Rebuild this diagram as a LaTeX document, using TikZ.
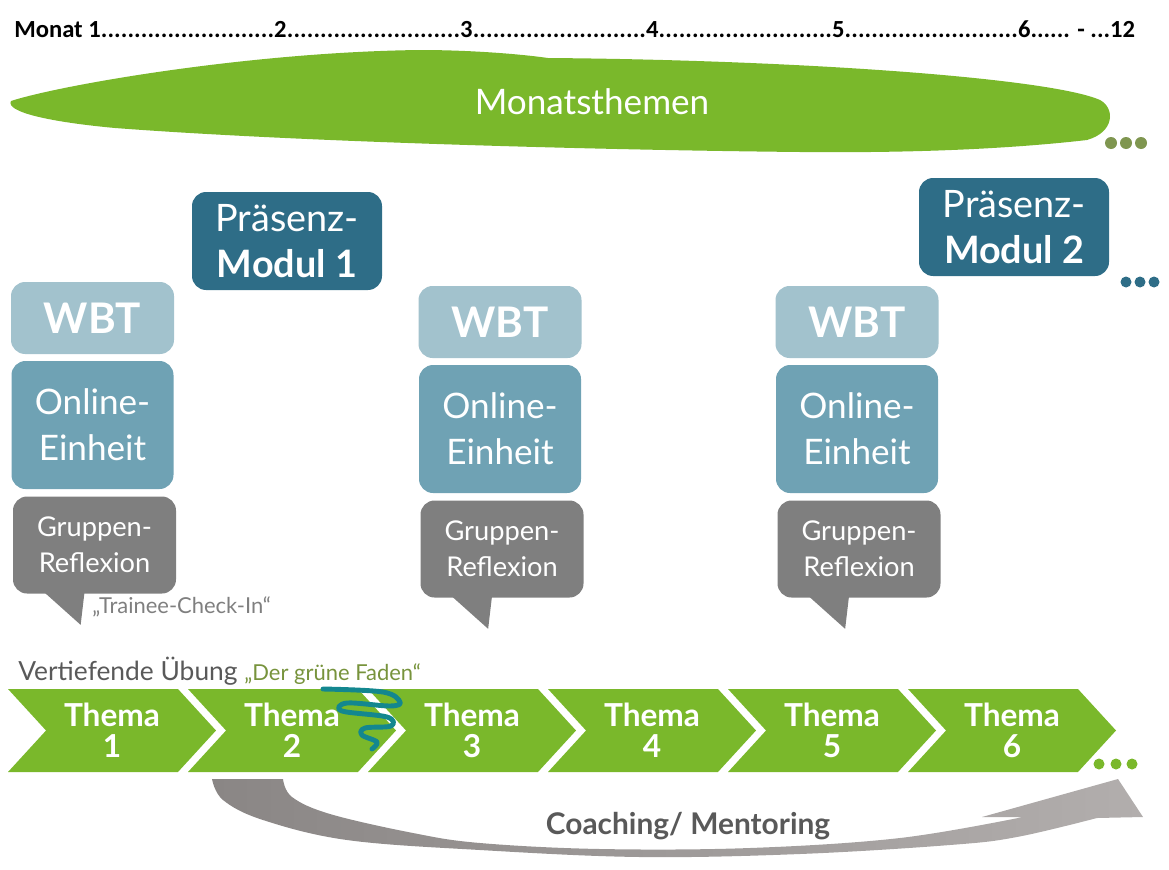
\documentclass[tikz,border=0pt]{standalone}
\usepackage{fontspec}
\setmainfont{Lato}
\newfontfamily\monatfont{Carlito}
\usepackage{xcolor}
\usepackage{tikz}
\usetikzlibrary{shapes.symbols}
\definecolor{themagruen}{HTML}{7AB82B}
\definecolor{punktoliv}{HTML}{7F9650}
\definecolor{praesenzblau}{HTML}{2E6D87}
\definecolor{wbtblau}{HTML}{A2C2CD}
\definecolor{onlineblau}{HTML}{6FA2B4}
\definecolor{gruppengrau}{HTML}{7F7F7F}
\definecolor{textgrau}{HTML}{595959}
\definecolor{fadenoliv}{HTML}{77933C}
\definecolor{fadenteal}{HTML}{13878F}
\definecolor{pfeildunkel}{HTML}{8A8685}
\definecolor{pfeilhell}{HTML}{B2AEAD}
\newlength\pxu
\setlength\pxu{0.02cm}
\newcommand\punktfill{\xleaders\hbox{.}\hfill}

\begin{document}
\begin{tikzpicture}[
  x=0.02cm, y=-0.02cm,
  kachel/.style={text=white,rounded corners=8pt,align=center,inner sep=0pt},
  praesenz/.style={kachel,fill=praesenzblau,minimum width=190\pxu,minimum height=98\pxu,font=\fontsize{21.5}{26.5}\selectfont},
  wbt/.style={kachel,fill=wbtblau,minimum width=163\pxu,minimum height=72\pxu,font=\bfseries\fontsize{24}{26}\selectfont},
  online/.style={kachel,fill=onlineblau,minimum width=162\pxu,minimum height=128\pxu,font=\fontsize{20}{26}\selectfont},
  gruppe/.style={kachel,fill=gruppengrau,minimum width=163\pxu,minimum height=97\pxu,font=\fontsize{15.5}{20.4}\selectfont},
  thema/.style={signal,signal to=east,signal from=west,signal pointer angle=95,fill=themagruen,text=white,
    minimum width=208\pxu,minimum height=83\pxu,inner sep=0pt,align=center,font=\bfseries\fontsize{18}{17.6}\selectfont},
  faden/.style={draw=fadenteal,line width=2.8pt,line cap=round,line join=round},
]
\useasboundingbox (0,0) rectangle (1169,869);

\node[anchor=base west,inner sep=0pt,font=\monatfont\bfseries\fontsize{14}{16}\selectfont] (monate) at (14,37)
  {\hbox to 1121\pxu{Monat 1\punktfill 2\punktfill 3\punktfill 4\punktfill 5\punktfill 6...... - ...12}};

\fill[themagruen] (11,101) .. controls (60,85) and (250,52) .. (420,50)
  .. controls (470,50) and (520,54) .. (548,58)
  .. controls (800,60) and (1050,78) .. (1100,100)
  .. controls (1115,108) and (1115,132) .. (1087,140)
  .. controls (1000,150) and (900,153) .. (800,152)
  .. controls (600,150) and (300,142) .. (115,128)
  .. controls (50,122) and (5,112) .. (11,101) -- cycle;
\node[text=white,font=\fontsize{20}{22}\selectfont] (themen) at (592,102) {Monatsthemen};
\foreach \x in {1111,1126,1141} \fill[punktoliv] (\x,143) circle (6\pxu);

\node[praesenz] (praesenzA) at (287,241) {Präsenz-\\\textbf{Modul 1}};
\node[praesenz] (praesenzB) at (1014,227) {Präsenz-\\\textbf{Modul 2}};
\foreach \x in {1126,1140,1154} \fill[praesenzblau] (\x,282) circle (5.5\pxu);

\foreach \name/\x/\dy in {A/92.5/0,B/500/4,C/857/4}{
  \node[wbt] (wbt\name) at (\x,318+\dy) {WBT};
  \node[online] (online\name) at (\x,425+\dy) {Online-\\Einheit};
  \node[gruppe] (gruppe\name) at (\x+2,545+\dy) {Gruppen-\\Reflexion};
  \fill[gruppengrau] ([xshift=30\pxu,yshift=3\pxu]gruppe\name.south west)
    -- ([xshift=68\pxu,yshift=-31\pxu]gruppe\name.south west)
    -- ([xshift=72\pxu,yshift=3\pxu]gruppe\name.south west) -- cycle;
}
\node[anchor=base west,inner sep=0pt,text=gruppengrau,font=\fontsize{12.5}{14}\selectfont] (checkin) at (92,613) {„Trainee-Check-In“};

\node[anchor=base west,inner sep=0pt,text=textgrau,font=\fontsize{15}{16}\selectfont] (uebung) at (18,680)
  {Vertiefende Übung {\color{fadenoliv}\fontsize{12.5}{13}\selectfont„Der grüne Faden“}};

\foreach \i in {0,...,5}{
  \pgfmathtruncatemacro\nr{\i+1}
  \node[thema] (thema\nr) at (112+180*\i,730.5) {Thema\\\nr};
}
\foreach \x in {1099,1116,1132} \fill[themagruen] (\x,764) circle (5.5\pxu);

\draw[faden] plot[smooth,tension=0.6] coordinates {(323,689) (383,692) (400,702) (390,706) (347,703) (342,711)
  (387,717) (391,726) (365,728) (362,735) (377,742) (372,749)};

\path[left color=pfeildunkel,right color=pfeilhell] (212,779) -- (283,779)
  -- plot[smooth,tension=0.6] coordinates {(283,779) (292,797) (330,814) (413,833) (480,843) (600,849) (750,848) (900,838) (1023,817)}
  -- (982,817) -- (1118,779) -- (1143,817) -- (1097,818)
  -- plot[smooth,tension=0.6] coordinates {(1097,818) (1017,837) (950,845) (800,854) (640,857) (480,850) (347,840) (263,820) (223,800) (212,779)}
  -- cycle;
\node[text=textgrau,font=\bfseries\fontsize{17}{18}\selectfont] (coaching) at (688,826) {Coaching/ Mentoring};
\end{tikzpicture}
\end{document}
